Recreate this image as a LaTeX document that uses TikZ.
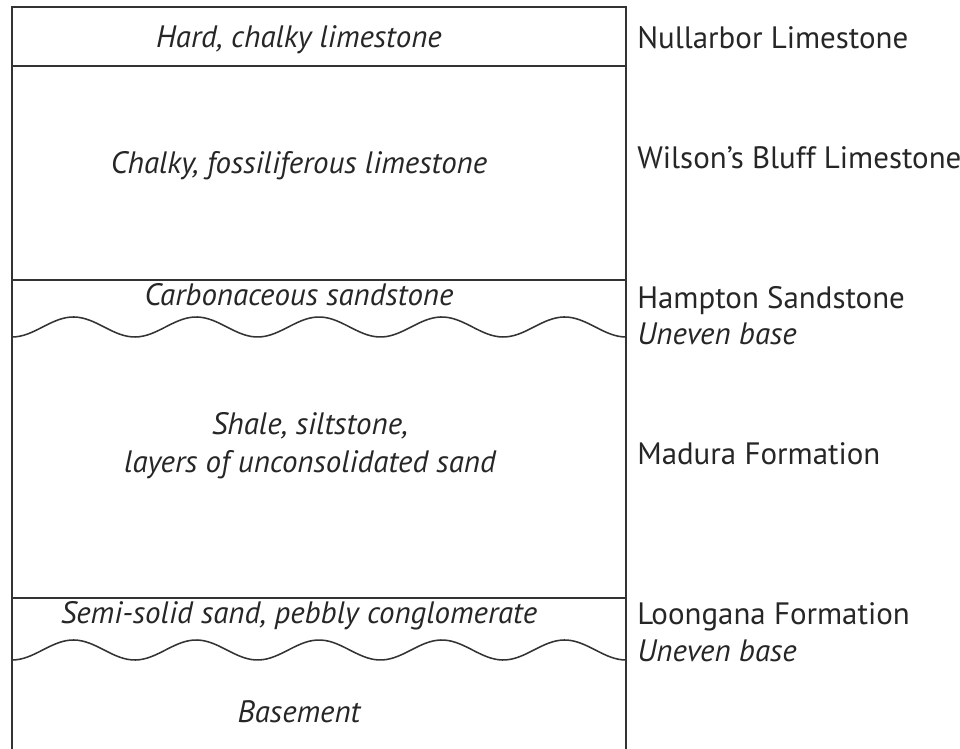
\documentclass[tikz,border=0pt]{standalone}
\usepackage{fontspec}
\setmainfont{PT Sans}
\usetikzlibrary{positioning}

\tikzset{
  layer/.style={font=\itshape\fontsize{22}{27}\selectfont, text=black!85, inner sep=0pt, anchor=base},
  unit/.style={font=\fontsize{22}{27}\selectfont, text=black!85, anchor=base west, inner sep=0pt},
  note/.style={unit, font=\itshape\fontsize{22}{27}\selectfont},
  bound/.style={line width=1.3pt, draw=black!80},
}

\begin{document}
\begin{tikzpicture}[x=0.025cm, y=0.025cm]
\useasboundingbox (0,0) rectangle (960,749);
% column outline and contacts
\draw[bound] (12,0) -- (12,742) -- (626,742) -- (626,0);
\foreach \y in {683,469,151}
    \draw[bound] (12,\y) -- (626,\y);
% uneven bases
\foreach \y in {422,99}
    \draw[bound, line width=1.1pt] plot[domain=12:626, samples=160] (\x, {\y - 10*cos(2.9316*(\x-12))});

% rock types
\node[layer] (hard) at (299,701) {Hard, chalky limestone};
\node[layer] (chalky) at (299,575) {Chalky, fossiliferous limestone};
\node[layer] (carb) at (299,443) {Carbonaceous sandstone};
\node[layer, anchor=center, align=center] (shale) at (310,303) {Shale, siltstone,\\layers of unconsolidated sand};
\node[layer] (semi) at (299,125) {Semi-solid sand, pebbly conglomerate};
\node[layer] (base) at (299,26) {Basement};

% formation names
\node[unit] (nullarbor) at (637,700) {Nullarbor Limestone};
\node[unit] (wilson) at (637,580) {Wilson’s Bluff Limestone};
\node[unit] (hampton) at (637,440) {Hampton Sandstone};
\node[note] (uneven1) at (637,404) {Uneven base};
\node[unit] (madura) at (637,284) {Madura Formation};
\node[unit] (loongana) at (637,124) {Loongana Formation};
\node[note] (uneven2) at (637,87) {Uneven base};
\end{tikzpicture}
\end{document}
